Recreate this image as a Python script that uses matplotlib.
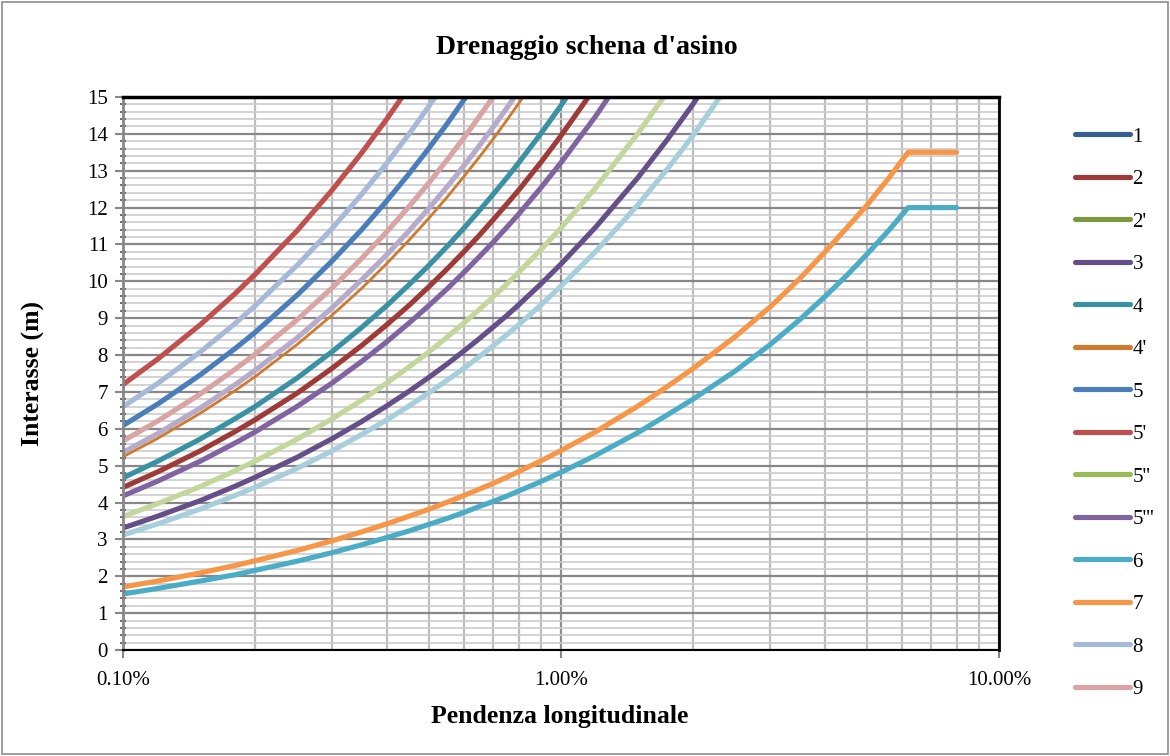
import matplotlib
matplotlib.use('Agg')
import matplotlib.pyplot as plt
from matplotlib.ticker import FixedLocator, MultipleLocator, LogLocator, NullFormatter
from matplotlib.patches import Rectangle

pendenza = [0.10, 0.12, 0.15, 0.18, 0.20, 0.25, 0.30, 0.35, 0.40, 0.45, 0.50, 0.55, 0.60,
            0.65, 0.70, 0.75, 0.80, 0.90, 1.0, 1.2, 1.5, 1.75, 2.0, 2.5, 3.0, 3.5, 4.0,
            4.5, 5.0, 5.6, 6.2, 8.0]

# interasse (m) per ogni curva (le curve escono dal grafico a 15 m)
s_1 = []
s_2 = [4.41, 4.83, 5.40, 5.92, 6.24, 6.97, 7.64, 8.25, 8.82, 9.35, 9.86, 10.34, 10.80,
       11.24, 11.67, 12.08, 12.47, 13.23, 13.95, 15.28]
s_2p = []
s_3 = [3.31, 3.63, 4.05, 4.44, 4.68, 5.23, 5.73, 6.19, 6.62, 7.02, 7.40, 7.76, 8.11,
       8.44, 8.76, 9.06, 9.36, 9.93, 10.47, 11.47, 12.82, 13.85, 14.80, 16.55]
s_4 = [4.67, 5.12, 5.72, 6.27, 6.60, 7.38, 8.09, 8.74, 9.34, 9.91, 10.44, 10.95, 11.44,
       11.91, 12.36, 12.79, 13.21, 14.01, 14.77, 16.18]
s_4p = [5.24, 5.74, 6.42, 7.03, 7.41, 8.29, 9.08, 9.80, 10.48, 11.12, 11.72, 12.29, 12.84,
        13.36, 13.86, 14.35, 14.82, 15.72]
s_5 = [6.09, 6.67, 7.46, 8.17, 8.61, 9.63, 10.55, 11.39, 12.18, 12.92, 13.62, 14.28, 14.92,
       15.53]
s_5p = [7.20, 7.89, 8.82, 9.66, 10.18, 11.38, 12.47, 13.47, 14.40, 15.27]
s_5pp = []
s_5ppp = [4.18, 4.58, 5.12, 5.61, 5.91, 6.61, 7.24, 7.82, 8.36, 8.87, 9.35, 9.80, 10.24,
          10.66, 11.06, 11.45, 11.82, 12.54, 13.22, 14.48, 16.19]
s_6 = [1.52, 1.67, 1.87, 2.04, 2.16, 2.41, 2.64, 2.85, 3.05, 3.23, 3.41, 3.57, 3.73,
       3.89, 4.03, 4.17, 4.31, 4.57, 4.82, 5.28, 5.90, 6.38, 6.80, 7.57, 8.28, 8.95, 9.58,
       10.17, 10.74, 11.38, 12.00, 12.00]
s_7 = [1.71, 1.87, 2.09, 2.29, 2.42, 2.70, 2.96, 3.20, 3.42, 3.63, 3.82, 4.01, 4.19,
       4.36, 4.52, 4.68, 4.84, 5.13, 5.41, 5.92, 6.62, 7.15, 7.63, 8.50, 9.30, 10.06, 10.79,
       11.46, 12.07, 12.80, 13.50, 13.50]
s_8 = [6.60, 7.23, 8.08, 8.85, 9.33, 10.44, 11.43, 12.35, 13.20, 14.00, 14.76, 15.48]
s_9 = [5.67, 6.21, 6.94, 7.61, 8.02, 8.96, 9.82, 10.61, 11.34, 12.03, 12.68, 13.30, 13.89,
       14.46, 15.00, 15.53]
# serie senza voce in legenda (legenda tagliata nell'originale)
s_10 = [5.36, 5.87, 6.56, 7.19, 7.58, 8.47, 9.28, 10.03, 10.72, 11.37, 11.99, 12.57, 13.13,
        13.67, 14.18, 14.68, 15.16]
s_11 = [3.62, 3.97, 4.43, 4.86, 5.12, 5.72, 6.27, 6.77, 7.24, 7.68, 8.09, 8.49, 8.87,
        9.23, 9.58, 9.91, 10.24, 10.86, 11.45, 12.54, 14.02, 15.14]
s_12 = [3.12, 3.42, 3.82, 4.19, 4.41, 4.93, 5.40, 5.84, 6.24, 6.62, 6.98, 7.32, 7.64,
        7.95, 8.25, 8.54, 8.82, 9.36, 9.87, 10.81, 12.08, 13.05, 13.95, 15.60]

etichette = ['1', '2', "2'", '3', '4', "4'", '5', "5'", "5''", "5'''", '6', '7', '8', '9']
colori = ['#376092', '#9E3B38', '#7B9A3E', '#654F89', '#3A91A3', '#D07A30', '#4A7EBB',
          '#C0504D', '#9BBB59', '#8064A2', '#4BACC6', '#F79646', '#A7B9D9', '#D9A4A3']
valori = [s_1, s_2, s_2p, s_3, s_4, s_4p, s_5, s_5p, s_5pp, s_5ppp, s_6, s_7, s_8, s_9]

extra_valori = [s_10, s_11, s_12]
extra_colori = ['#B7ABCB', '#C3D69B', '#A6CEDB']

plt.rcParams['font.family'] = ['Liberation Serif', 'DejaVu Serif']

fig = plt.figure(figsize=(11.7, 7.56), dpi=100)
ax = fig.add_axes([123/1170, 1-650/756, (999-123)/1170, (650-97)/756])

ax.set_xscale('log')
ax.set_xlim(0.1, 10)
ax.set_ylim(0, 15)

# griglia
ax.yaxis.set_major_locator(MultipleLocator(1))
ax.yaxis.set_minor_locator(MultipleLocator(0.2))
ax.xaxis.set_major_locator(FixedLocator([0.1, 1, 10]))
ax.xaxis.set_minor_locator(LogLocator(base=10, subs=[2, 3, 4, 5, 6, 7, 8, 9]))
ax.xaxis.set_minor_formatter(NullFormatter())
ax.set_xticklabels(['0.10%', '1.00%', '10.00%'])
ax.grid(True, which='major', axis='y', color='#878787', lw=1.6)
ax.grid(True, which='minor', axis='y', color='#cccccc', lw=1.2)
ax.grid(True, which='major', axis='x', color='#8f8f8f', lw=1.6)
ax.grid(True, which='minor', axis='x', color='#bdbdbd', lw=1.6)
ax.set_axisbelow(True)

ax.tick_params(axis='both', which='major', labelsize=15, length=6, width=1.5, color='#878787')
ax.tick_params(axis='y', which='major', pad=5)
ax.tick_params(axis='x', which='major', pad=9)
ax.tick_params(axis='y', which='minor', length=4, width=1.2, direction='inout', color='#555555')
ax.tick_params(axis='x', which='minor', length=0)

for s in ['top', 'right', 'bottom']:
    ax.spines[s].set_color('black')
ax.spines['top'].set_linewidth(2.5)
ax.spines['right'].set_linewidth(2.0)
ax.spines['bottom'].set_linewidth(1.5)
ax.spines['left'].set_color('#878787')
ax.spines['left'].set_linewidth(2.0)

LW = 3.7
handles = []
for lab, val, col in zip(etichette, valori, colori):
    lw = 2.0 if lab == "4'" else LW
    h, = ax.plot(pendenza[:len(val)], val, color=col, lw=lw, label=lab,
                 solid_capstyle='round', solid_joinstyle='round')
    handles.append(h)

for val, col in zip(extra_valori, extra_colori):
    ax.plot(pendenza[:len(val)], val, color=col, lw=LW,
            solid_capstyle='round', solid_joinstyle='round', zorder=1.9)

leg = fig.legend(handles, etichette, loc='center left', bbox_to_anchor=(1056/1170, 1-413/756),
                 frameon=False, fontsize=15, handlelength=2.65, handletextpad=0.12,
                 labelspacing=1.1)
for ln in leg.get_lines():
    ln.set_linewidth(LW)

fig.text(587/1170, 1-48/756, "Drenaggio schena d'asino", ha='center', va='center',
         fontsize=20, weight='bold')
fig.text(33/1170, 1-373/756, 'Interasse (m)', ha='center', va='center', rotation=90,
         fontsize=18.5, weight='bold')
fig.text(560/1170, 1-716/756, 'Pendenza longitudinale', ha='center', va='center',
         fontsize=18.5, weight='bold')

fig.patches.append(Rectangle((0.002, 0.003), 0.996, 0.994, transform=fig.transFigure,
                             fill=False, ec='#8c8c8c', lw=1.2))

fig.savefig('out.png', dpi=100)
